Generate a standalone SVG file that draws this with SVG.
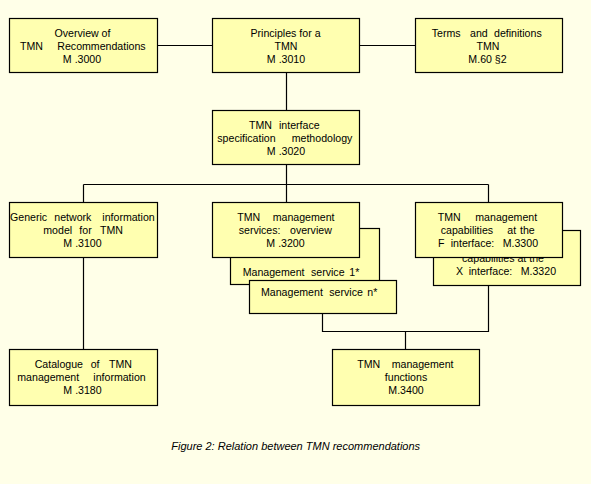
<svg xmlns="http://www.w3.org/2000/svg" width="591" height="484" viewBox="0 0 591 484">
<style>
.box{fill:#FFFFB0;stroke:#000;stroke-width:1.2}
.ln{fill:none;stroke:#000;stroke-width:1.2}
text{font-family:"Liberation Sans",Arial,sans-serif;font-size:10.6px;fill:#000}
.c{text-anchor:middle}
.cap{font-style:italic;font-size:11px}
</style>
<rect width="591" height="484" fill="#FFFFE8"/>
<g id="connectors">
<path class="ln" d="M157.5,45.5H212.5M359.5,45.5H415.5M286.5,72.5V110.5M286.5,164.5V202.5M83.5,184.5H488.5M83.5,184.5V202.5M488.5,184.5V202.5M83.5,257.5V349.5M322.5,313.5V331.5H488.5V285.5M405.5,331.5V349.5"/>
</g>
<g id="m3000">
<rect class="box" x="9.5" y="18.5" width="148" height="54"/>
<text class="c" x="82.5" y="37">Overview of</text>
<text y="50"><tspan x="20">TMN</tspan><tspan x="57.3">Recommendations</tspan></text>
<text class="c" x="82" y="63">M .3000</text>
</g>
<g id="m3010">
<rect class="box" x="212.5" y="18.5" width="147" height="54"/>
<text class="c" x="285.5" y="37">Principles  for  a</text>
<text class="c" x="286" y="50">TMN</text>
<text class="c" x="286" y="63">M .3010</text>
</g>
<g id="m60">
<rect class="box" x="415.5" y="18.5" width="147" height="54"/>
<text y="37"><tspan x="431.7">Terms</tspan><tspan x="470">and</tspan><tspan x="494">definitions</tspan></text>
<text class="c" x="488" y="50">TMN</text>
<text class="c" x="487.5" y="63">M.60  §2</text>
</g>
<g id="m3020">
<rect class="box" x="212.5" y="110.5" width="147" height="54"/>
<text y="129"><tspan x="249">TMN</tspan><tspan x="279">interface</tspan></text>
<text y="142"><tspan x="217.3">specification</tspan><tspan x="291.7">methodology</tspan></text>
<text class="c" x="286" y="155">M .3020</text>
</g>
<g id="m3100">
<rect class="box" x="9.5" y="202.5" width="148" height="55"/>
<text y="221"><tspan x="10">Generic</tspan><tspan x="54.3">network</tspan><tspan x="102.3">information</tspan></text>
<text y="234"><tspan x="43.3">model</tspan><tspan x="79.3">for</tspan><tspan x="100">TMN</tspan></text>
<text class="c" x="82.5" y="247">M .3100</text>
</g>
<g id="m3180">
<rect class="box" x="9.5" y="349.5" width="148" height="56"/>
<text y="368"><tspan x="34.7">Catalogue</tspan><tspan x="90.7">of</tspan><tspan x="109">TMN</tspan></text>
<text y="381"><tspan x="17.3">management</tspan><tspan x="93.3">information</tspan></text>
<text class="c" x="82.5" y="394">M .3180</text>
</g>
<g id="service1">
<rect class="box" x="230.5" y="228.5" width="149" height="56"/>
<text y="276"><tspan x="242.7">Management</tspan><tspan x="311">service</tspan><tspan x="349.3">1*</tspan></text>
</g>
<g id="servicen">
<rect class="box" x="249.5" y="280.5" width="147" height="33"/>
<text y="296"><tspan x="261">Management</tspan><tspan x="329.3">service</tspan><tspan x="367.3">n*</tspan></text>
</g>
<g id="m3200">
<rect class="box" x="212.5" y="202.5" width="147" height="55"/>
<text y="221"><tspan x="237.3">TMN</tspan><tspan x="272.7">management</tspan></text>
<text y="234"><tspan x="238.7">services:</tspan><tspan x="290">overview</tspan></text>
<text class="c" x="285.5" y="247">M .3200</text>
</g>
<g id="m3320">
<rect class="box" x="433.5" y="230.5" width="147" height="55"/>
<text class="c" x="503" y="262">capabilities  at  the</text>
<text y="275"><tspan x="456">X</tspan><tspan x="468.7">interface:</tspan><tspan x="520.7">M.3320</tspan></text>
</g>
<g id="m3300">
<rect class="box" x="415.5" y="202.5" width="147" height="55"/>
<text y="221"><tspan x="437.7">TMN</tspan><tspan x="475.3">management</tspan></text>
<text y="234"><tspan x="440.7">capabilities</tspan><tspan x="507.3">at</tspan><tspan x="520">the</tspan></text>
<text y="247"><tspan x="438">F</tspan><tspan x="450.7">interface:</tspan><tspan x="502.7">M.3300</tspan></text>
</g>
<g id="m3400">
<rect class="box" x="332.5" y="349.5" width="147" height="56"/>
<text y="368"><tspan x="357.3">TMN</tspan><tspan x="391.7">management</tspan></text>
<text class="c" x="406" y="381">functions</text>
<text class="c" x="406" y="394">M.3400</text>
</g>
<text class="cap c" x="295.7" y="450">Figure 2: Relation between TMN recommendations</text>
</svg>
